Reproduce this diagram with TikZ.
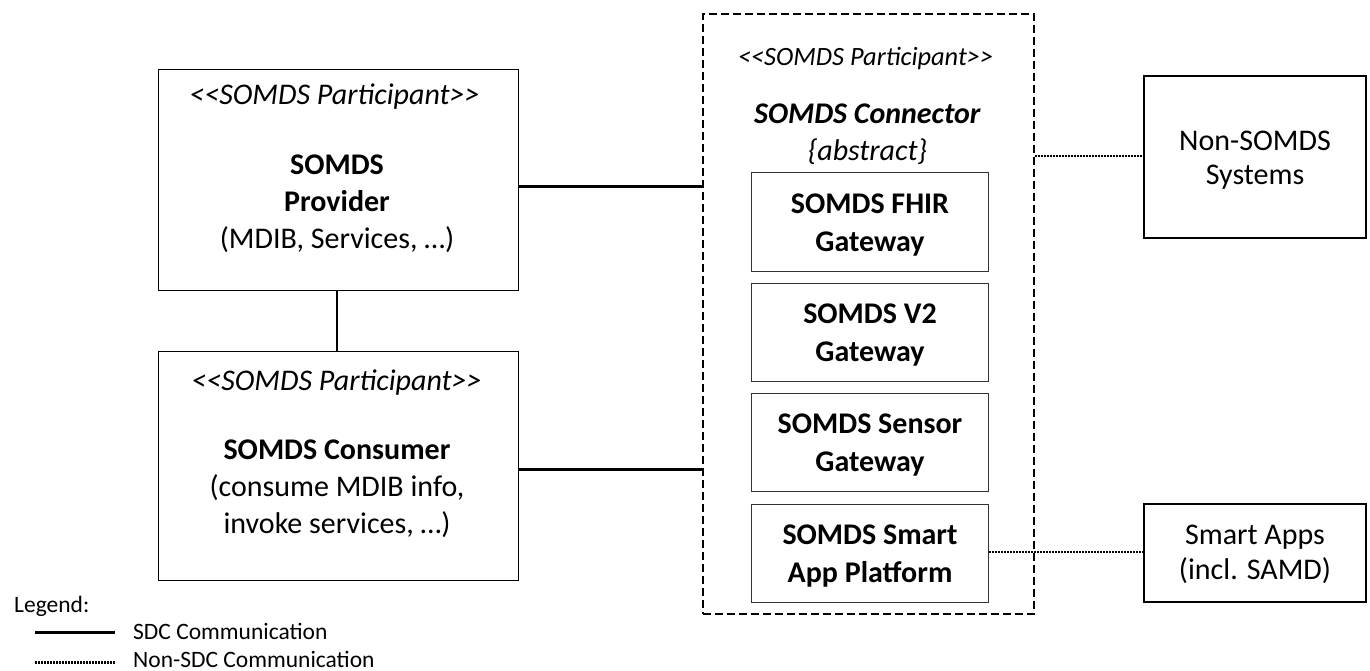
\documentclass[tikz,border=0pt]{standalone}
\usepackage{fontspec}
\setmainfont{Carlito}
\newcommand{\downstrut}[1]{\rule{0pt}{#1pt}}
\begin{document}
\begin{tikzpicture}[x=1pt,y=-1pt,
 box/.style={draw=black,line width=1.2pt,fill=white,align=center,inner sep=0pt,font=\fontsize{30}{37}\selectfont},
 inner/.style={box,line width=1pt,draw=black!80,minimum width=236.5,minimum height=98,font=\fontsize{30}{38}\selectfont},
 outer/.style={box,line width=1.6pt,font=\fontsize{30}{35}\selectfont},
 sdc/.style={line width=2.6pt},
 nonsdc/.style={line width=2.6pt,dash pattern=on 1.8pt off 1.2pt},
 txt/.style={align=center,inner sep=0pt,font=\fontsize{30}{37}\selectfont},
 part/.style={font=\fontsize{30}{36}\selectfont\itshape,inner sep=0pt},
 leg/.style={inner sep=0pt,anchor=west,font=\fontsize{23.5}{28}\selectfont}]
\useasboundingbox (0,0) rectangle (1370,671);
\node[box,minimum width=360,minimum height=221] (prov) at (338.5,180) {};
\node[box,minimum width=360,minimum height=229] (cons) at (338.5,466) {};
\node[box,dashed,dash pattern=on 8pt off 4pt,line width=1.4pt,minimum width=331,minimum height=600] (conn) at (868.5,314) {};
\node[inner] (fhir) at (870,222) {\downstrut{25}\textbf{SOMDS FHIR}\\\textbf{Gateway}};
\node[inner] (v2) at (870,332) {\downstrut{25}\textbf{SOMDS V2}\\\textbf{Gateway}};
\node[inner] (sensor) at (870,442.5) {\downstrut{25}\textbf{SOMDS Sensor}\\\textbf{Gateway}};
\node[inner] (smart) at (870,553) {\downstrut{25}\textbf{SOMDS Smart}\\\textbf{App Platform}};
\node[outer,minimum width=222,minimum height=162,font=\fontsize{30}{34}\selectfont] (non) at (1255,157) {\downstrut{26}Non-SOMDS\\Systems};
\node[outer,minimum width=222,minimum height=98] (apps) at (1255,553) {\downstrut{23}Smart Apps\\(incl. SAMD)};
\node[part] (t1) at (334.5,97) {<{}<SOMDS Participant>{}>};
\node[txt] (t2) at (337,204) {\textbf{SOMDS}\\\textbf{Provider}\\(MDIB, Services, …)};
\node[part] (t3) at (336.5,383) {<{}<SOMDS Participant>{}>};
\node[txt] (t4) at (337,489) {\textbf{SOMDS Consumer}\\(consume MDIB info,\\invoke services, …)};
\node[part,font=\fontsize{26.4}{32}\selectfont\itshape] (t5) at (865.5,59) {<{}<SOMDS Participant>{}>};
\node[txt] (t6) at (867.5,134) {\textbf{\textit{SOMDS Connector}}\\\textit{\{abstract\}}};
\coordinate (pr) at (prov.east|-0,186.5);
\coordinate (cr) at (cons.east|-0,469.5);
\draw[sdc] (pr) -- (conn.west|-pr);
\draw[sdc] (cr) -- (conn.west|-cr);
\draw[sdc] (prov.south-|337,0) -- (cons.north-|337,0);
\draw[nonsdc] (conn.east|-0,156) -- (non.west|-0,156);
\draw[nonsdc] (smart.east|-0,552) -- (apps.west|-0,552);
\node[leg] (lg) at (14,606) {Legend:};
\coordinate (a1) at (35,632.5); \coordinate (a2) at (115,632.5);
\coordinate (b1) at (35,662.5); \coordinate (b2) at (115,662.5);
\draw[sdc] (a1) -- (a2);
\draw[nonsdc] (b1) -- (b2);
\node[leg] (l1) at (133,631) {SDC Communication};
\node[leg] (l2) at (133,659.5) {Non-SDC Communication};
\end{tikzpicture}
\end{document}
